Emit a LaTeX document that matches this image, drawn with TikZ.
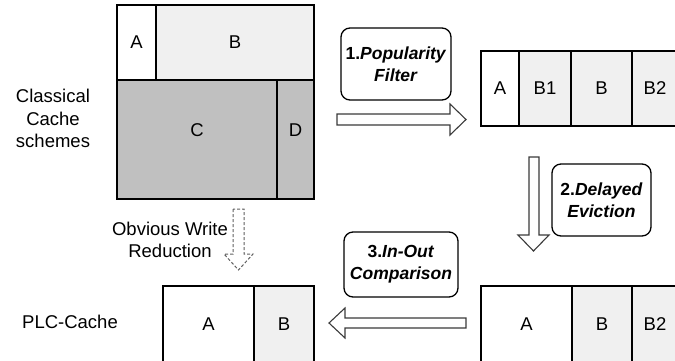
\documentclass[tikz,border=0pt]{standalone}
\usepackage{fontspec}
\setmainfont{Liberation Sans}
\definecolor{lightcell}{HTML}{F0F0F0}
\definecolor{darkcell}{HTML}{C0C0C0}
\definecolor{arrowline}{HTML}{3A3A3A}
\definecolor{dashline}{HTML}{606060}
\newcommand{\labfont}{\fontsize{18.5}{22.5}\selectfont}
\newcommand{\stepfont}{\fontsize{17.5}{22}\selectfont}
\begin{document}
\begin{tikzpicture}[x=1pt,y=-1pt,
  cell/.style={draw=black,line width=1.4pt,inner sep=0pt,font=\labfont,anchor=center},
  stepbox/.style={draw=black,line width=1.3pt,rounded corners=9pt,inner sep=0pt,
    font=\stepfont\bfseries,align=center,anchor=center},
  txt/.style={font=\labfont,align=center,inner sep=0pt},
  blockarrow/.style={draw=arrowline,fill=white,line width=1.1pt,line join=miter},
]
\useasboundingbox (0,0) rectangle (675,360);
\clip (0,0) rectangle (675,360);

% classical cache square
\node[cell,fill=white,minimum width=39pt,minimum height=75pt] (cA) at (136.5,42.5) {A};
\node[cell,fill=lightcell,minimum width=158pt,minimum height=75pt] (cB) at (235,42.5) {B};
\node[cell,fill=darkcell,minimum width=160pt,minimum height=119pt] (cC) at (197,139.5) {};
\node[cell,fill=darkcell,minimum width=37pt,minimum height=119pt] (cD) at (295.5,139.5) {};
\node[txt] (cCl) at (197,130) {C};
\node[txt] (cDl) at (295.5,130) {D};

% top right cache
\node[cell,fill=white,minimum width=38pt,minimum height=75pt] (tA) at (500,88.5) {A};
\node[cell,fill=lightcell,minimum width=52pt,minimum height=75pt] (tB1) at (545,88.5) {B1};
\node[cell,fill=lightcell,minimum width=61pt,minimum height=75pt] (tB) at (601.5,88.5) {B};
\node[cell,fill=lightcell,minimum width=46pt,minimum height=75pt] (tB2) at (655,88.5) {B2};

% bottom right cache
\node[cell,fill=white,minimum width=91pt,minimum height=76pt] (rA) at (526.5,324) {A};
\node[cell,fill=lightcell,minimum width=60pt,minimum height=76pt] (rB) at (602,324) {B};
\node[cell,fill=lightcell,minimum width=46pt,minimum height=76pt] (rB2) at (655,324) {B2};

% PLC cache
\node[cell,fill=white,minimum width=91pt,minimum height=76pt] (pA) at (208.5,324) {A};
\node[cell,fill=lightcell,minimum width=60pt,minimum height=76pt] (pB) at (284,324) {B};

% step boxes
\node[stepbox,minimum width=110pt,minimum height=72pt] (s1) at (396,64)
  {1.\textit{Popularity}\\\textit{Filter}};
\node[stepbox,minimum width=99pt,minimum height=72pt] (s2) at (601.5,200)
  {2.\textit{Delayed}\\\textit{Eviction}};
\node[stepbox,minimum width=114pt,minimum height=65pt] (s3) at (401,264.5)
  {3.\textit{In-Out}\\\textit{Comparison}};

% side labels
\node[txt] (lcl) at (53,118.5) {Classical\\Cache\\schemes};
\node[txt] (lplc) at (70,322) {PLC-Cache};
\node[txt] (lowr) at (170,240) {Obvious Write\\Reduction};

% block arrows
\draw[blockarrow] (337,114) -- (450,114) -- (450,104) -- (466,119.5) -- (450,135)
  -- (450,125) -- (337,125) -- cycle;
\draw[blockarrow] (529,157) -- (529,235) -- (518,235) -- (533.5,251) -- (549,235)
  -- (539,235) -- (539,157) -- cycle;
\draw[blockarrow] (466,318) -- (345,318) -- (345,308) -- (329,323) -- (345,338)
  -- (345,328) -- (466,328) -- cycle;
\draw[blockarrow,draw=dashline,line width=1pt,dash pattern=on 3pt off 2pt] (233,209) -- (233,254)
  -- (224,254) -- (238.5,270) -- (253,254) -- (244,254) -- (244,209) -- cycle;
\end{tikzpicture}
\end{document}
